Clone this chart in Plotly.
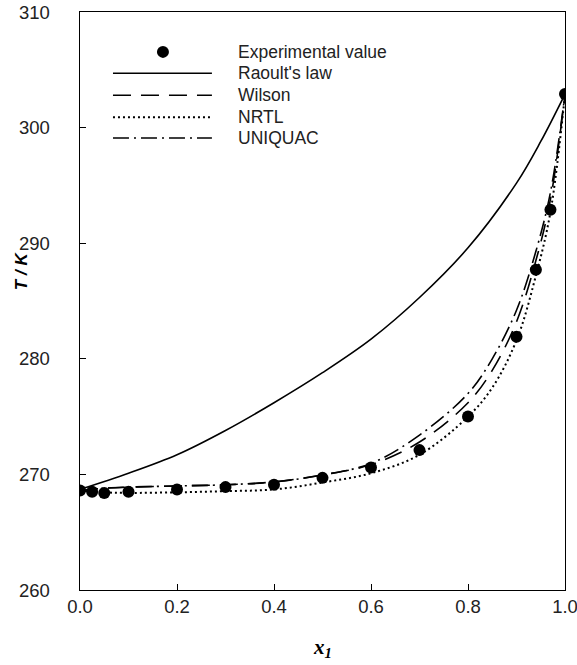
import plotly.graph_objects as go

# ---- data ----
x_exp = [0.0, 0.025, 0.05, 0.1, 0.2, 0.3, 0.4, 0.5, 0.6, 0.7, 0.8, 0.9, 0.94, 0.97, 1.0]
T_exp = [268.6, 268.5, 268.4, 268.5, 268.7, 268.9, 269.1, 269.7, 270.6, 272.1, 275.0, 281.9, 287.7, 292.9, 302.9]

x_raoult = [0.0, 0.1, 0.2, 0.3, 0.4, 0.5, 0.6, 0.7, 0.8, 0.9, 0.95, 1.0]
T_raoult = [268.7, 270.1, 271.7, 273.8, 276.2, 278.8, 281.7, 285.3, 289.6, 295.2, 298.8, 302.9]

x_model = [0.0, 0.05, 0.1, 0.2, 0.3, 0.4, 0.5, 0.6, 0.7, 0.8, 0.85, 0.9, 0.94, 0.97, 1.0]
T_wilson = [268.6, 268.8, 268.9, 269.0, 269.1, 269.35, 269.95, 270.85, 272.8, 276.2, 279.0, 283.2, 288.5, 293.8, 302.9]
T_uniquac = [268.6, 268.8, 268.9, 269.0, 269.1, 269.35, 269.95, 270.95, 273.4, 277.0, 280.0, 284.2, 289.3, 294.4, 302.9]
T_nrtl = [268.6, 268.45, 268.4, 268.45, 268.55, 268.7, 269.3, 270.1, 271.7, 275.0, 277.5, 281.6, 287.2, 292.7, 302.9]

legend_labels = ["Experimental value", "Raoult's law", "Wilson", "NRTL", "UNIQUAC"]

x_ticks = [0.0, 0.2, 0.4, 0.6, 0.8, 1.0]
y_ticks = [260, 270, 280, 290, 300, 310]

# ---- styles ----
dash_wilson = "18px,10px"
dash_nrtl = "2px,3px"
dash_uniquac = "16px,5px,2px,5px"
txt_font = "Liberation Sans, Arial"

fig = go.Figure()
fig.add_trace(go.Scatter(x=x_raoult, y=T_raoult, mode="lines", line=dict(color="black", width=1.6, shape="spline"), name=legend_labels[1]))
fig.add_trace(go.Scatter(x=x_model, y=T_wilson, mode="lines", line=dict(color="black", width=1.6, dash=dash_wilson, shape="spline"), name=legend_labels[2]))
fig.add_trace(go.Scatter(x=x_model, y=T_nrtl, mode="lines", line=dict(color="black", width=2, dash=dash_nrtl, shape="spline"), name=legend_labels[3]))
fig.add_trace(go.Scatter(x=x_model, y=T_uniquac, mode="lines", line=dict(color="black", width=1.6, dash=dash_uniquac, shape="spline"), name=legend_labels[4]))
fig.add_trace(go.Scatter(x=x_exp, y=T_exp, mode="markers", marker=dict(color="black", size=12, symbol="circle"), name=legend_labels[0]))

# ---- manual legend (paper coordinates) ----
leg_rows_y = [0.931, 0.894, 0.856, 0.818, 0.782]
leg_line_x0, leg_line_x1 = 0.068, 0.272
leg_marker_x = 0.171
leg_text_x = 0.322
shapes = [dict(type="circle", xref="paper", yref="paper", xsizemode="pixel", ysizemode="pixel",
               xanchor=leg_marker_x, yanchor=leg_rows_y[0], x0=-6, x1=6, y0=-6, y1=6,
               fillcolor="black", line=dict(color="black", width=0))]
leg_dashes = ["solid", dash_wilson, dash_nrtl, dash_uniquac]
leg_widths = [1.6, 1.6, 2, 1.6]
for yy, d, w in zip(leg_rows_y[1:], leg_dashes, leg_widths):
    shapes.append(dict(type="line", xref="paper", yref="paper", x0=leg_line_x0, x1=leg_line_x1,
                       y0=yy, y1=yy, line=dict(color="black", width=w, dash=d)))
annotations = []
for yy, lab in zip(leg_rows_y, legend_labels):
    annotations.append(dict(xref="paper", yref="paper", x=leg_text_x, y=yy, text=lab, showarrow=False,
                            xanchor="left", yanchor="middle", font=dict(family=txt_font, size=17.5, color="#222")))

# y tick labels placed at the tick values, offset left of the axis
for v in y_ticks:
    annotations.append(dict(xref="paper", yref="y", x=-0.058, y=v, text=str(v), showarrow=False,
                            xanchor="right", yanchor="middle", font=dict(family=txt_font, size=18.5, color="#222")))

# axis titles
annotations.append(dict(xref="paper", yref="paper", x=0.5, y=-0.1, text="<b><i>x</i></b><sub><b><i>1</i></b></sub>",
                        showarrow=False, xanchor="center", yanchor="middle",
                        font=dict(family="Liberation Serif, Times New Roman", size=21, color="black")))
annotations.append(dict(xref="paper", yref="paper", x=-0.12, y=0.553, text="<b><i>T / K</i></b>", textangle=-90,
                        showarrow=False, xanchor="center", yanchor="middle",
                        font=dict(family=txt_font, size=17, color="black")))

fig.update_layout(
    width=577, height=665,
    margin=dict(l=80, r=12, t=12, b=75, autoexpand=False),
    paper_bgcolor="white", plot_bgcolor="white",
    showlegend=False,
    shapes=shapes, annotations=annotations,
    font=dict(family=txt_font, size=18.5, color="#222"),
)
fig.update_xaxes(range=[0, 1], tickvals=x_ticks, ticktext=[f"{v:.1f}" for v in x_ticks],
                 ticks="inside", ticklen=6, tickcolor="black", showline=True, linecolor="black", linewidth=1,
                 mirror=True, showgrid=False, zeroline=False, ticklabelstandoff=0, automargin=False,
                 ticklabeloverflow="allow")
fig.update_yaxes(range=[260, 310], tickvals=y_ticks, ticks="inside", ticklen=6, tickcolor="black",
                 showline=True, linecolor="black", linewidth=1, mirror=True, showgrid=False, zeroline=False,
                 showticklabels=False, automargin=False)

fig.write_html("out.html", config={"displayModeBar": False},
               post_script="document.body.style.margin='0px';document.body.style.overflow='hidden';")
